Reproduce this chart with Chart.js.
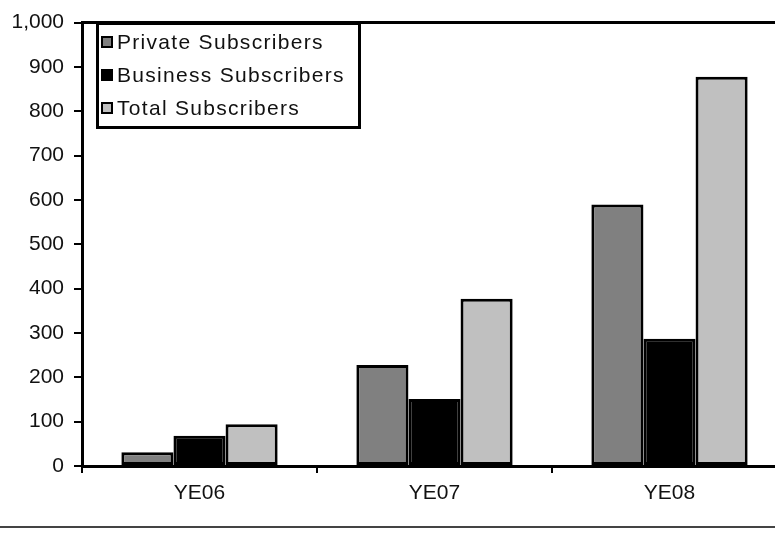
<!DOCTYPE html>
<html>
<head>
<meta charset="utf-8">
<script src="https://cdn.jsdelivr.net/npm/chart.js@4.4.1/dist/chart.umd.min.js"></script>
<style>
  html, body { margin: 0; padding: 0; background: #fff; }
  #wrap { position: relative; width: 775px; height: 533px; overflow: hidden; }
  #wrap canvas { position: absolute; left: 0; top: 0; }
  #sep { position: absolute; left: 0; top: 526px; width: 775px; height: 2px; background: #444; }
</style>
</head>
<body>
<div id="wrap">
  <canvas id="grafico" width="800" height="533" style="width:800px;height:533px"></canvas>
  <div id="sep"></div>
</div>
<script>
  // dados
  const categorias = ['YE06', 'YE07', 'YE08'];
  const privados = [31, 228, 590];
  const empresas = [68, 151, 287];
  const totais = [94, 377, 878];
  const nomesSeries = ['Private Subscribers', 'Business Subscribers', 'Total Subscribers'];
  const coresSeries = ['#808080', '#000000', '#c0c0c0'];

  const fonte = { family: 'Liberation Sans, Arial, sans-serif', size: 21 };

  // legenda com moldura dentro da area do grafico
  const legendaCaixa = {
    id: 'legendaCaixa',
    afterDraw(chart) {
      const ctx = chart.ctx;
      ctx.save();
      ctx.lineWidth = 3;
      ctx.strokeStyle = '#000';
      ctx.strokeRect(97.5, 23.5, 262, 104);
      ctx.font = `${fonte.size}px ${fonte.family}`;
      ctx.textBaseline = 'middle';
      ctx.letterSpacing = '1.3px';
      chart.data.datasets.forEach((ds, i) => {
        const y = 42 + i * 33;
        ctx.fillStyle = ds.backgroundColor;
        ctx.fillRect(101, y - 6, 12, 12);
        ctx.lineWidth = 2;
        ctx.strokeRect(102, y - 5, 10, 10);
        ctx.fillStyle = '#111';
        ctx.fillText(ds.label, 117, y + 1);
      });
      ctx.restore();
    }
  };

  const datasets = [privados, empresas, totais].map((valores, i) => ({
    label: nomesSeries[i],
    data: valores,
    backgroundColor: coresSeries[i],
    borderColor: '#000',
    borderWidth: 3,
    borderSkipped: false,
    categoryPercentage: 0.665,
    barPercentage: 1.0
  }));

  new Chart(document.getElementById('grafico'), {
    type: 'bar',
    data: { labels: categorias, datasets: datasets },
    options: {
      responsive: false,
      animation: false,
      layout: { padding: { left: 0, right: 13, top: 0, bottom: 0 } },
      plugins: { legend: { display: false }, tooltip: { enabled: false } },
      scales: {
        x: {
          position: 'bottom',
          grid: { drawOnChartArea: false, offset: true, tickLength: 7, color: '#000', lineWidth: 2 },
          border: { color: '#000', width: 3 },
          ticks: { color: '#111', font: fonte, padding: 8, maxRotation: 0 },
          afterFit(scale) { scale.height = 67; }
        },
        topo: {
          type: 'category',
          position: 'top',
          labels: categorias,
          grid: { display: false },
          border: { color: '#000', width: 3 },
          ticks: { display: false },
          afterFit(scale) { scale.height = 13; }
        },
        y: {
          min: 0,
          max: 1000,
          ticks: { stepSize: 100, color: '#111', font: fonte, padding: 10 },
          grid: { drawOnChartArea: false, tickLength: 8, color: '#000', lineWidth: 2 },
          border: { color: '#000', width: 3 },
          afterFit(scale) { scale.width = 82; }
        }
      }
    },
    plugins: [legendaCaixa]
  });
</script>
</body>
</html>
